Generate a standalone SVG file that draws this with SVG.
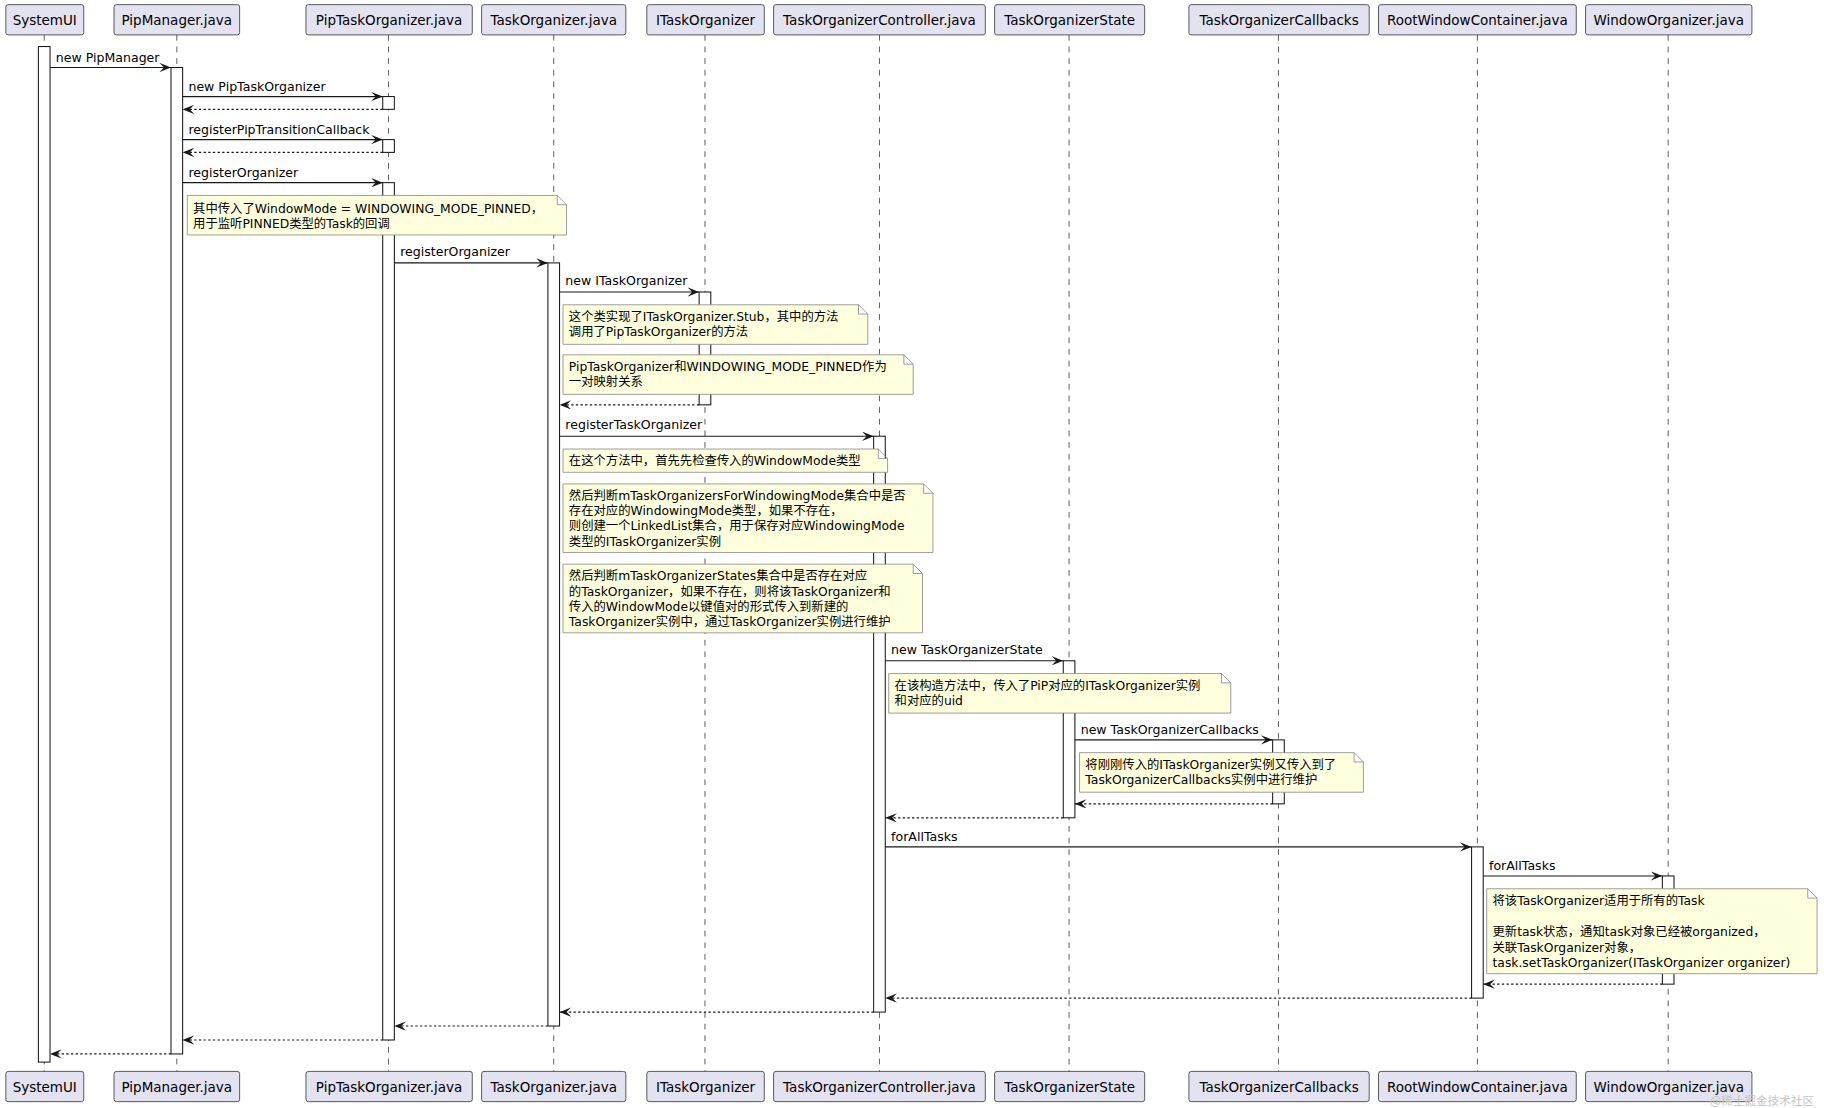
<svg xmlns="http://www.w3.org/2000/svg" width="1824" height="1108" viewBox="0 0 1824 1108">
<style>
text{font-family:"DejaVu Sans","Noto Sans CJK SC",sans-serif;fill:#000}
.p rect{fill:#E2E2F0;stroke:#181818;stroke-width:0.6}
.p text{font-size:11.6px;text-anchor:middle}
.ll{stroke:#181818;stroke-width:0.6;stroke-dasharray:5,5}
.act{fill:#fff;stroke:#181818;stroke-width:0.9}
.m{stroke:#181818;stroke-width:1;fill:none;marker-end:url(#ah)}
.r{stroke:#181818;stroke-width:1;fill:none;stroke-dasharray:2,2;marker-end:url(#ah)}
.lbl{font-size:10.8px}
.n path{fill:#FEFFDD;stroke:#888;stroke-width:0.7}
.n text{font-size:10.6px}
</style>
<defs>
<marker id="ah" markerWidth="10" markerHeight="8" refX="10" refY="4" orient="auto" markerUnits="userSpaceOnUse">
<path d="M0,0 L10,4 L0,8 L4,4 Z" fill="#181818"/>
</marker>
</defs>
<rect width="1824" height="1108" fill="#fff"/>
<g transform="scale(1.1633)">
<g id="lifelines">
<line class="ll" x1="38" y1="30" x2="38" y2="921"/>
<line class="ll" x1="152" y1="30" x2="152" y2="921"/>
<line class="ll" x1="334" y1="30" x2="334" y2="921"/>
<line class="ll" x1="476" y1="30" x2="476" y2="921"/>
<line class="ll" x1="606" y1="30" x2="606" y2="921"/>
<line class="ll" x1="756" y1="30" x2="756" y2="921"/>
<line class="ll" x1="919" y1="30" x2="919" y2="921"/>
<line class="ll" x1="1099" y1="30" x2="1099" y2="921"/>
<line class="ll" x1="1270" y1="30" x2="1270" y2="921"/>
<line class="ll" x1="1434" y1="30" x2="1434" y2="921"/>
</g>
<g id="participants">
<g id="p-systemui" class="p"><rect x="5" y="4" width="67" height="26" rx="2"/><text x="38.5" y="21.5">SystemUI</text><rect x="5" y="921" width="67" height="26" rx="2"/><text x="38.5" y="938.5">SystemUI</text></g>
<g id="p-pipmanager" class="p"><rect x="98" y="4" width="108" height="26" rx="2"/><text x="152" y="21.5">PipManager.java</text><rect x="98" y="921" width="108" height="26" rx="2"/><text x="152" y="938.5">PipManager.java</text></g>
<g id="p-piptaskorg" class="p"><rect x="263" y="4" width="143" height="26" rx="2"/><text x="334.5" y="21.5">PipTaskOrganizer.java</text><rect x="263" y="921" width="143" height="26" rx="2"/><text x="334.5" y="938.5">PipTaskOrganizer.java</text></g>
<g id="p-taskorg" class="p"><rect x="414" y="4" width="124" height="26" rx="2"/><text x="476" y="21.5">TaskOrganizer.java</text><rect x="414" y="921" width="124" height="26" rx="2"/><text x="476" y="938.5">TaskOrganizer.java</text></g>
<g id="p-itaskorg" class="p"><rect x="556" y="4" width="101" height="26" rx="2"/><text x="606.5" y="21.5">ITaskOrganizer</text><rect x="556" y="921" width="101" height="26" rx="2"/><text x="606.5" y="938.5">ITaskOrganizer</text></g>
<g id="p-controller" class="p"><rect x="665" y="4" width="182" height="26" rx="2"/><text x="756" y="21.5">TaskOrganizerController.java</text><rect x="665" y="921" width="182" height="26" rx="2"/><text x="756" y="938.5">TaskOrganizerController.java</text></g>
<g id="p-state" class="p"><rect x="855" y="4" width="129" height="26" rx="2"/><text x="919.5" y="21.5">TaskOrganizerState</text><rect x="855" y="921" width="129" height="26" rx="2"/><text x="919.5" y="938.5">TaskOrganizerState</text></g>
<g id="p-callbacks" class="p"><rect x="1022" y="4" width="155" height="26" rx="2"/><text x="1099.5" y="21.5">TaskOrganizerCallbacks</text><rect x="1022" y="921" width="155" height="26" rx="2"/><text x="1099.5" y="938.5">TaskOrganizerCallbacks</text></g>
<g id="p-rootwc" class="p"><rect x="1185" y="4" width="170" height="26" rx="2"/><text x="1270" y="21.5">RootWindowContainer.java</text><rect x="1185" y="921" width="170" height="26" rx="2"/><text x="1270" y="938.5">RootWindowContainer.java</text></g>
<g id="p-winorg" class="p"><rect x="1363" y="4" width="143" height="26" rx="2"/><text x="1434.5" y="21.5">WindowOrganizer.java</text><rect x="1363" y="921" width="143" height="26" rx="2"/><text x="1434.5" y="938.5">WindowOrganizer.java</text></g>
</g>
<g id="activations">
<rect class="act" x="33" y="40" width="10" height="873"/>
<rect class="act" x="147" y="58" width="10" height="848"/>
<rect class="act" x="329" y="83" width="10" height="11"/>
<rect class="act" x="329" y="120" width="10" height="11"/>
<rect class="act" x="329" y="157" width="10" height="737"/>
<rect class="act" x="471" y="226" width="10" height="656"/>
<rect class="act" x="601" y="251" width="10" height="97"/>
<rect class="act" x="751" y="375" width="10" height="495"/>
<rect class="act" x="914" y="568" width="10" height="135"/>
<rect class="act" x="1094" y="636" width="10" height="55"/>
<rect class="act" x="1265" y="728" width="10" height="130"/>
<rect class="act" x="1429" y="753" width="10" height="93"/>
</g>
<g id="connectors">
<line class="m" x1="43" y1="58" x2="147" y2="58"/><text class="lbl" x="48" y="53">new PipManager</text>
<line class="m" x1="157" y1="83" x2="329" y2="83"/><text class="lbl" x="162" y="78">new PipTaskOrganizer</text>
<line class="r" x1="329" y1="94" x2="157" y2="94"/>
<line class="m" x1="157" y1="120" x2="329" y2="120"/><text class="lbl" x="162" y="115">registerPipTransitionCallback</text>
<line class="r" x1="329" y1="131" x2="157" y2="131"/>
<line class="m" x1="157" y1="157" x2="329" y2="157"/><text class="lbl" x="162" y="152">registerOrganizer</text>
<line class="m" x1="339" y1="226" x2="471" y2="226"/><text class="lbl" x="344" y="220">registerOrganizer</text>
<line class="m" x1="481" y1="251" x2="601" y2="251"/><text class="lbl" x="486" y="245">new ITaskOrganizer</text>
<line class="r" x1="601" y1="348" x2="481" y2="348"/>
<line class="m" x1="481" y1="375" x2="751" y2="375"/><text class="lbl" x="486" y="369">registerTaskOrganizer</text>
<line class="m" x1="761" y1="568" x2="914" y2="568"/><text class="lbl" x="766" y="562">new TaskOrganizerState</text>
<line class="m" x1="924" y1="636" x2="1094" y2="636"/><text class="lbl" x="929" y="631">new TaskOrganizerCallbacks</text>
<line class="r" x1="1094" y1="691" x2="924" y2="691"/>
<line class="r" x1="914" y1="703" x2="761" y2="703"/>
<line class="m" x1="761" y1="728" x2="1265" y2="728"/><text class="lbl" x="766" y="723">forAllTasks</text>
<line class="m" x1="1275" y1="753" x2="1429" y2="753"/><text class="lbl" x="1280" y="748">forAllTasks</text>
<line class="r" x1="1429" y1="846" x2="1275" y2="846"/>
<line class="r" x1="1265" y1="858" x2="761" y2="858"/>
<line class="r" x1="751" y1="870" x2="481" y2="870"/>
<line class="r" x1="471" y1="882" x2="339" y2="882"/>
<line class="r" x1="329" y1="894" x2="157" y2="894"/>
<line class="r" x1="147" y1="906" x2="43" y2="906"/>
</g>
<g id="notes">
<g id="note1" class="n"><path d="M161,168 H479 L487,176 V202 H161 Z M479,168 V176 H487"/><text x="166" y="183">其中传入了WindowMode = WINDOWING_MODE_PINNED，</text><text x="166" y="196">用于监听PINNED类型的Task的回调</text></g>
<g id="note2" class="n"><path d="M484,262 H738 L746,270 V296 H484 Z M738,262 V270 H746"/><text x="489" y="276">这个类实现了ITaskOrganizer.Stub，其中的方法</text><text x="489" y="289">调用了PipTaskOrganizer的方法</text></g>
<g id="note3" class="n"><path d="M484,305 H777 L785,313 V339 H484 Z M777,305 V313 H785"/><text x="489" y="319">PipTaskOrganizer和WINDOWING_MODE_PINNED作为</text><text x="489" y="332">一对映射关系</text></g>
<g id="note4" class="n"><path d="M484,386 H755 L763,394 V406 H484 Z M755,386 V394 H763"/><text x="489" y="400">在这个方法中，首先先检查传入的WindowMode类型</text></g>
<g id="note5" class="n"><path d="M484,416 H794 L802,424 V475 H484 Z M794,416 V424 H802"/><text x="489" y="430">然后判断mTaskOrganizersForWindowingMode集合中是否</text><text x="489" y="443">存在对应的WindowingMode类型，如果不存在，</text><text x="489" y="456">则创建一个LinkedList集合，用于保存对应WindowingMode</text><text x="489" y="469">类型的ITaskOrganizer实例</text></g>
<g id="note6" class="n"><path d="M484,485 H785 L793,493 V544 H484 Z M785,485 V493 H793"/><text x="489" y="499">然后判断mTaskOrganizerStates集合中是否存在对应</text><text x="489" y="512">的TaskOrganizer，如果不存在，则将该TaskOrganizer和</text><text x="489" y="525">传入的WindowMode以键值对的形式传入到新建的</text><text x="489" y="538">TaskOrganizer实例中，通过TaskOrganizer实例进行维护</text></g>
<g id="note7" class="n"><path d="M764,579 H1050 L1058,587 V613 H764 Z M1050,579 V587 H1058"/><text x="769" y="593">在该构造方法中，传入了PiP对应的ITaskOrganizer实例</text><text x="769" y="606">和对应的uid</text></g>
<g id="note8" class="n"><path d="M928,647 H1164 L1172,655 V681 H928 Z M1164,647 V655 H1172"/><text x="933" y="661">将刚刚传入的ITaskOrganizer实例又传入到了</text><text x="933" y="674">TaskOrganizerCallbacks实例中进行维护</text></g>
<g id="note9" class="n"><path d="M1278,764 H1554 L1562,772 V837 H1278 Z M1554,764 V772 H1562"/><text x="1283" y="778">将该TaskOrganizer适用于所有的Task</text><text x="1283" y="805">更新task状态，通知task对象已经被organized，</text><text x="1283" y="818">关联TaskOrganizer对象，</text><text x="1283" y="831">task.setTaskOrganizer(ITaskOrganizer organizer)</text></g>
</g>
<text x="1470" y="950" style="font-size:10px;fill:#c4c4c4;font-family:'Noto Sans CJK SC',sans-serif">@稀土掘金技术社区</text>
</g>
</svg>
